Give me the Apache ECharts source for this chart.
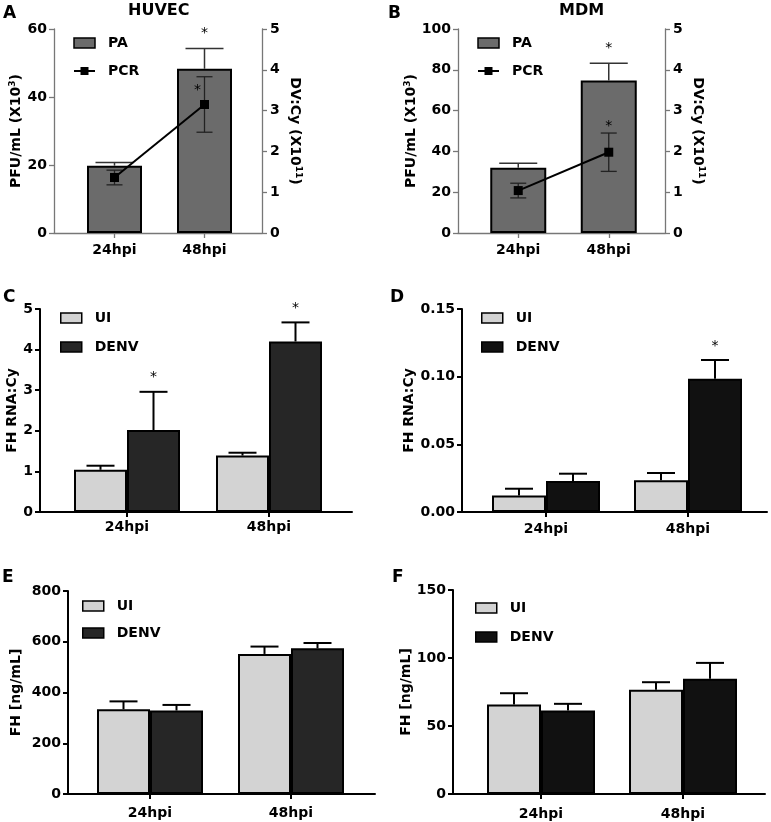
<!DOCTYPE html>
<html><head><meta charset="utf-8">
<script src="https://cdn.jsdelivr.net/npm/echarts@6/dist/echarts.min.js"></script>
<style>html,body{margin:0;padding:0;background:#fff}#c{width:771px;height:822px}</style>
</head><body><div id="c"></div>
<script>
// ---------------- DATA ----------------
const categories = ['24hpi', '48hpi'];

// A: HUVEC
const huvecPA = [19.8, 48.3];
const huvecPAErr = [0.9, 6.0];
const huvecPCR = [1.36, 3.15];
const huvecPCRErr = [0.18, 0.68];
const huvecPASig = [false, true];
const huvecPCRSig = [false, true];

// B: MDM
const mdmPA = [32.0, 74.7];
const mdmPAErr = [2.2, 8.5];
const mdmPCR = [1.04, 1.98];
const mdmPCRErr = [0.18, 0.47];
const mdmPASig = [false, true];
const mdmPCRSig = [false, true];

// C: FH RNA:Cy (HUVEC)
const cUI = [1.04, 1.39];
const cUIErr = [0.10, 0.07];
const cDENV = [2.02, 4.20];
const cDENVErr = [0.94, 0.47];
const cDENVSig = [true, true];

// D: FH RNA:Cy (MDM)
const dUI = [0.0121, 0.0234];
const dUIErr = [0.0051, 0.0054];
const dDENV = [0.0229, 0.0985];
const dDENVErr = [0.0054, 0.0138];
const dDENVSig = [false, true];

// E: FH ng/mL (HUVEC)
const eUI = [334, 552];
const eUIErr = [31, 29];
const eDENV = [329, 574];
const eDENVErr = [22, 21];

// F: FH ng/mL (MDM)
const fUI = [65.8, 76.6];
const fUIErr = [8.3, 5.6];
const fDENV = [61.4, 84.7];
const fDENVErr = [4.9, 11.7];

// ---------------- STYLE / LAYOUT ----------------
const FONT = 'DejaVu Sans';
const grid = [], xAxis = [], yAxis = [], series = [], legend = [], title = [];

const boldText = {fontFamily: FONT, fontWeight: 'bold', fontSize: 14, color: '#000'};
const supRich = {sup: {fontFamily: FONT, fontWeight: 'bold', fontSize: 9, color: '#000', padding: [0, 0, 7, 0]}};

function errSeries(xi, yi, vals, errs, offset, capW, both, color, lw) {
  return {
    type: 'custom', xAxisIndex: xi, yAxisIndex: yi, z: 6, silent: true,
    encode: {x: 0, y: 1},
    data: vals.map((v, i) => [i, v, errs[i]]),
    renderItem(params, api) {
      const i = api.value(0), v = api.value(1), e = api.value(2);
      const c = api.coord([i, v]), t = api.coord([i, v + e]), b = api.coord([i, v - e]);
      const x = c[0] + offset;
      const st = {stroke: color, lineWidth: lw};
      const ch = [
        {type: 'line', shape: {x1: x, y1: both ? b[1] : c[1], x2: x, y2: t[1]}, style: st},
        {type: 'line', shape: {x1: x - capW / 2, y1: t[1], x2: x + capW / 2, y2: t[1]}, style: st}
      ];
      if (both) ch.push({type: 'line', shape: {x1: x - capW / 2, y1: b[1], x2: x + capW / 2, y2: b[1]}, style: st});
      return {type: 'group', children: ch};
    }
  };
}

function starSeries(xi, yi, vals, errs, sig, offset, dx, dy) {
  return {
    type: 'custom', xAxisIndex: xi, yAxisIndex: yi, z: 7, silent: true,
    encode: {x: 0, y: 1},
    data: vals.map((v, i) => [i, v + errs[i], sig[i] ? 1 : 0]),
    renderItem(params, api) {
      if (!api.value(2)) return null;
      const p = api.coord([api.value(0), api.value(1)]);
      return {type: 'text', style: {text: '*', x: p[0] + offset + dx, y: p[1] + dy,
        align: 'center', verticalAlign: 'middle', fontFamily: FONT, fontSize: 14, fill: '#000'}};
    }
  };
}

function panel(cfg) {
  const axisCol = cfg.axisColor, axisW = cfg.axisWidth;
  // display grid
  const gd = grid.length;
  grid.push(Object.assign({}, cfg.disp));
  xAxis.push({gridIndex: gd, type: 'value', min: 0, max: 1,
    axisLine: {show: true, onZero: false, lineStyle: {color: axisCol, width: axisW}},
    axisTick: {show: false}, axisLabel: {show: false}, splitLine: {show: false}});
  const mkY = (ax, pos) => ({gridIndex: gd, type: 'value', position: pos,
    min: ax.min, max: ax.max, interval: ax.interval,
    axisLine: {show: true, onZero: false, lineStyle: {color: axisCol, width: axisW}},
    axisTick: {show: true, length: 5, lineStyle: {color: axisCol, width: axisW}},
    axisLabel: Object.assign({margin: pos === 'left' ? 7 : 8, formatter: ax.fmt}, boldText),
    splitLine: {show: false},
    name: ax.name, nameLocation: 'middle', nameGap: ax.nameGap, nameRotate: pos === 'left' ? 90 : -90,
    nameTextStyle: Object.assign({rich: supRich}, boldText)});
  yAxis.push(mkY(cfg.yL, 'left'));
  if (cfg.yR) yAxis.push(mkY(cfg.yR, 'right'));
  // bar grid
  const gb = grid.length;
  grid.push({left: cfg.bar.left, width: cfg.bar.width, top: cfg.disp.top, height: cfg.disp.height});
  xAxis.push({gridIndex: gb, type: 'category', data: categories,
    axisLine: {show: false},
    axisTick: {show: true, alignWithLabel: true, length: 5, lineStyle: {color: axisCol, width: axisW}},
    axisLabel: Object.assign({margin: cfg.labelMargin}, boldText)});
  const xb = xAxis.length - 1;
  yAxis.push({gridIndex: gb, type: 'value', min: cfg.yL.min, max: cfg.yL.max, show: false});
  const ybL = yAxis.length - 1;
  let ybR = null;
  if (cfg.yR) { yAxis.push({gridIndex: gb, type: 'value', min: cfg.yR.min, max: cfg.yR.max, show: false}); ybR = yAxis.length - 1; }
  return {xb, ybL, ybR};
}

const legendBase = {orient: 'vertical', padding: 0, itemWidth: 21, itemHeight: 10, selectedMode: false,
  formatter: n => n.split(':')[1],
  textStyle: Object.assign({padding: [0, 0, 0, 8], lineHeight: 16}, boldText)};

// ---- Panels A & B ----
function panelAB(key, disp, bar, barW, yL, yR, pa, paErr, pcr, pcrErr, paSig, pcrSig, pcrStar, legPos) {
  const ax = panel({disp, bar, yL, yR, labelMargin: 10, axisColor: '#777', axisWidth: 1.3});
  const barCol = '#6b6b6b';
  series.push({type: 'bar', name: key + ':PA', xAxisIndex: ax.xb, yAxisIndex: ax.ybL, data: pa,
    barWidth: barW, itemStyle: {color: barCol, borderColor: '#000', borderWidth: 2}, z: 2});
  series.push(errSeries(ax.xb, ax.ybL, pa, paErr, 0, 38, false, '#333', 1.5));
  series.push({type: 'line', name: key + ':PCR', xAxisIndex: ax.xb, yAxisIndex: ax.ybR, data: pcr,
    symbol: 'rect', symbolSize: 9, lineStyle: {color: '#000', width: 2}, itemStyle: {color: '#000'}, z: 8});
  series.push(errSeries(ax.xb, ax.ybR, pcr, pcrErr, 0, 16, true, '#222', 1.3));
  series.push(starSeries(ax.xb, ax.ybL, pa, paErr, paSig, 0, 0, -15));
  series.push(starSeries(ax.xb, ax.ybR, pcr, pcrErr, pcrSig, 0, pcrStar[0], pcrStar[1]));
  legend.push(Object.assign({}, legendBase, legPos, {
    data: [{name: key + ':PA', icon: 'rect', itemStyle: {color: barCol, borderColor: '#000', borderWidth: 1.5}},
           {name: key + ':PCR'}]}));
}

panelAB('A', {left: 54, top: 29, width: 208, height: 204}, {left: 69.5, width: 180}, 55,
  {min: 0, max: 60, interval: 20, name: 'PFU/mL (X10{sup|3})', nameGap: 30},
  {min: 0, max: 5, interval: 1, name: 'DV:Cy (X10{sup|11})', nameGap: 25},
  huvecPA, huvecPAErr, huvecPCR, huvecPCRErr, huvecPASig, huvecPCRSig, [-7, 14], {left: 73, top: 35, itemGap: 12});

panelAB('B', {left: 458, top: 29, width: 207, height: 204}, {left: 473, width: 181}, 56,
  {min: 0, max: 100, interval: 20, name: 'PFU/mL (X10{sup|3})', nameGap: 38},
  {min: 0, max: 5, interval: 1, name: 'DV:Cy (X10{sup|11})', nameGap: 25},
  mdmPA, mdmPAErr, mdmPCR, mdmPCRErr, mdmPASig, mdmPCRSig, [0, -7], {left: 477, top: 35, itemGap: 12});

// ---- Panels C-F ----
function panelGrouped(key, disp, bar, barW, yL, ui, uiErr, denv, denvErr, denvSig, denvCol, legPos, labelMargin) {
  const ax = panel({disp, bar, yL, labelMargin, axisColor: '#000', axisWidth: 2});
  const uiCol = '#d3d3d3';
  series.push({type: 'bar', name: key + ':UI', xAxisIndex: ax.xb, yAxisIndex: ax.ybL, data: ui,
    barWidth: barW, barGap: '0%', itemStyle: {color: uiCol, borderColor: '#000', borderWidth: 2}, z: 2});
  series.push({type: 'bar', name: key + ':DENV', xAxisIndex: ax.xb, yAxisIndex: ax.ybL, data: denv,
    barWidth: barW, barGap: '0%', itemStyle: {color: denvCol, borderColor: '#000', borderWidth: 2}, z: 2});
  series.push(errSeries(ax.xb, ax.ybL, ui, uiErr, -barW / 2, 28, false, '#000', 2));
  series.push(errSeries(ax.xb, ax.ybL, denv, denvErr, barW / 2, 28, false, '#000', 2));
  if (denvSig) series.push(starSeries(ax.xb, ax.ybL, denv, denvErr, denvSig, barW / 2, 0, -14));
  legend.push(Object.assign({}, legendBase, legPos, {
    data: [{name: key + ':UI', icon: 'rect', itemStyle: {color: uiCol, borderColor: '#000', borderWidth: 1.5}},
           {name: key + ':DENV', icon: 'rect', itemStyle: {color: denvCol, borderColor: '#000', borderWidth: 1.5}}]}));
}

panelGrouped('C', {left: 40, top: 309, width: 312, height: 203}, {left: 56, width: 284}, 53,
  {min: 0, max: 5, interval: 1, name: 'FH RNA:Cy', nameGap: 17},
  cUI, cUIErr, cDENV, cDENVErr, cDENVSig, '#262626', {left: 60, top: 310, itemGap: 13}, 8);

panelGrouped('D', {left: 462, top: 309, width: 305, height: 203}, {left: 475, width: 284}, 54,
  {min: 0, max: 0.15, interval: 0.05, name: 'FH RNA:Cy', nameGap: 44, fmt: v => v.toFixed(2)},
  dUI, dUIErr, dDENV, dDENVErr, dDENVSig, '#111111', {left: 481, top: 310, itemGap: 13}, 10);

panelGrouped('E', {left: 68, top: 591, width: 307, height: 203}, {left: 79.5, width: 282}, 53,
  {min: 0, max: 800, interval: 200, name: 'FH [ng/mL]', nameGap: 45},
  eUI, eUIErr, eDENV, eDENVErr, null, '#262626', {left: 82, top: 598, itemGap: 11}, 12);

panelGrouped('F', {left: 453, top: 590, width: 312, height: 204}, {left: 470, width: 284}, 54,
  {min: 0, max: 150, interval: 50, name: 'FH [ng/mL]', nameGap: 35},
  fUI, fUIErr, fDENV, fDENVErr, null, '#111111', {left: 475, top: 600, itemGap: 13}, 13);

// ---- titles / panel letters ----
const letterStyle = {fontFamily: FONT, fontWeight: 'bold', fontSize: 17, color: '#000'};
[['A', 3, 5], ['B', 388, 5], ['C', 3, 289], ['D', 390, 289], ['E', 2, 569], ['F', 392, 569]].forEach(([t, l, tp]) =>
  title.push({text: t, left: l, top: tp, padding: 0, textStyle: letterStyle}));
title.push({text: 'HUVEC', left: 128, top: 3, padding: 0, textStyle: {fontFamily: FONT, fontWeight: 'bold', fontSize: 16, color: '#000'}});
title.push({text: 'MDM', left: 559, top: 3, padding: 0, textStyle: {fontFamily: FONT, fontWeight: 'bold', fontSize: 16, color: '#000'}});

const chart = echarts.init(document.getElementById('c'), null, {renderer: 'canvas'});
chart.setOption({animation: false, backgroundColor: '#fff', title, grid, xAxis, yAxis, series, legend});
</script>
</body></html>
